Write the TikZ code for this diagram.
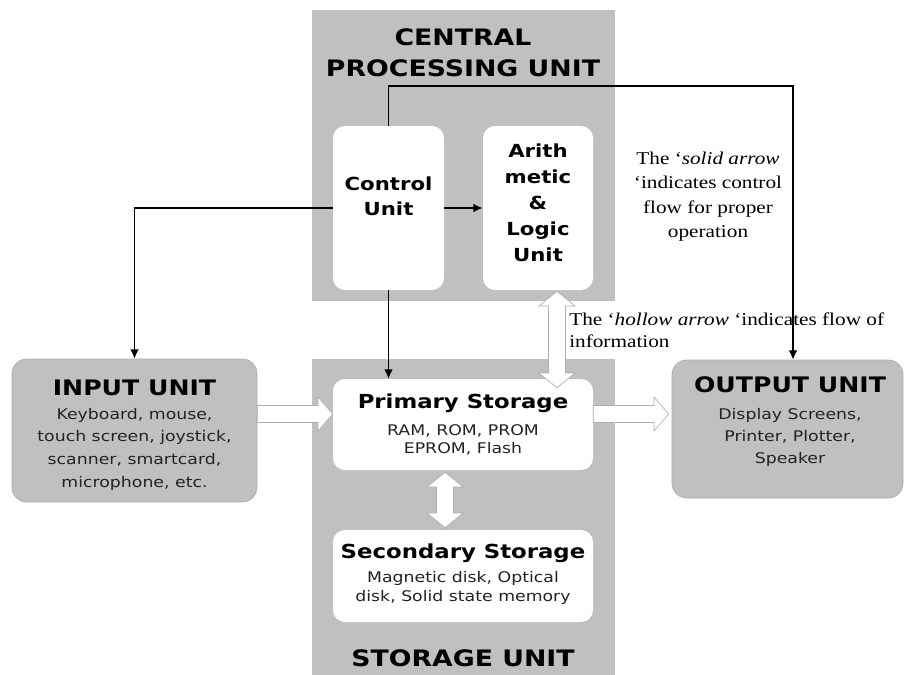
\documentclass[tikz,border=0pt]{standalone}
\usepackage{fontspec}
\setmainfont[FakeStretch=1.18]{Liberation Serif}
\newfontfamily\unitfont[FakeStretch=1.18]{DejaVu Sans}
\usetikzlibrary{arrows.meta,calc,fit}
\definecolor{panelgray}{RGB}{192,192,192}
\definecolor{hollowedge}{RGB}{175,175,175}
\definecolor{listtext}{RGB}{35,35,35}

\begin{document}
\begin{tikzpicture}[x=0.75pt,y=-0.75pt,
  panel/.style={fill=panelgray, draw=none, inner sep=0pt},
  unitbox/.style={fill=panelgray, draw=panelgray!90!black, line width=0.5pt, rounded corners=11pt, inner sep=0pt},
  whitebox/.style={fill=white, draw=none, rounded corners=9pt, inner sep=0pt},
  bigtitle/.style={font=\unitfont\bfseries\fontsize{17}{23}\selectfont, align=center, inner sep=0pt},
  unittitle/.style={font=\unitfont\bfseries\fontsize{16}{20}\selectfont, inner sep=0pt},
  storetitle/.style={font=\unitfont\bfseries\fontsize{14.5}{18}\selectfont, inner sep=0pt},
  celltitle/.style={font=\unitfont\bfseries\fontsize{13.5}{19}\selectfont, align=center, inner sep=0pt},
  listtext/.style={text=listtext, align=center, inner sep=0pt},
  note/.style={font=\fontsize{13.5}{18.4}\selectfont, inner sep=0pt},
  ctlflow/.style={draw=black, line width=1.15pt, -{Latex[length=7pt,width=6.5pt]}},
  hollowright/.style={draw=hollowedge, fill=white, line width=0.5pt,
    to path={let \p1=(\tikztostart), \p2=(\tikztotarget) in
      (\x1,\y1+6.4pt) -- (\x2-11pt,\y1+6.4pt) -- (\x2-11pt,\y1+12.75pt) -- (\x2,\y1)
      -- (\x2-11pt,\y1-12.75pt) -- (\x2-11pt,\y1-6.4pt) -- (\x1,\y1-6.4pt) -- cycle}},
  hollowboth/.style={draw=hollowedge, fill=white, line width=0.5pt,
    to path={let \p1=(\tikztostart), \p2=(\tikztotarget) in
      (\x1,\y1) -- (\x1+13.5pt,\y1-11pt) -- (\x1+6.4pt,\y1-11pt) -- (\x1+6.4pt,\y2+11pt)
      -- (\x1+13.5pt,\y2+11pt) -- (\x1,\y2) -- (\x1-13.5pt,\y2+11pt) -- (\x1-6.4pt,\y2+11pt)
      -- (\x1-6.4pt,\y1-11pt) -- (\x1-13.5pt,\y1-11pt) -- cycle}}
]
\useasboundingbox (0,0) rectangle (905,674);

% grey panels and unit boxes
\node[panel, fit={(312,10) (615,301)}] (cpu) {};
\node[panel, fit={(312,359) (615,680)}] (storage) {};
\node[unitbox, fit={(12,359) (257,502)}] (input) {};
\node[unitbox, fit={(672,360) (903,498)}] (output) {};

% white inner blocks
\node[whitebox, fit={(333,126) (444,290)}] (ctrl) {};
\node[whitebox, fit={(483,126) (593,290)}] (alu) {};
\node[whitebox, fit={(333,379) (593,470)}] (primary) {};
\node[whitebox, fit={(333,530) (593,622)}] (secondary) {};

% information flow (hollow arrows)
\coordinate (inA) at ($(input.east)+(0,-16.5)$);
\coordinate (inB) at (primary.west |- inA);
\coordinate (outA) at (primary.east |- inA);
\coordinate (outB) at ($(output.west |- inA)+(-3,0)$);
\coordinate (busTop) at ($(alu.south)+(19,1)$);
\coordinate (busBot) at ($(busTop |- primary.north)+(0,9)$);
\coordinate (memTop) at ($(primary.south)+(-18,2)$);
\coordinate (memBot) at ($(memTop |- secondary.north)+(0,-2)$);
\path[hollowright] (inA) to (inB);
\path[hollowright] (outA) to (outB);
\path[hollowboth] (busTop) to (busBot);
\path[hollowboth] (memTop) to (memBot);

% titles and contents
\node[bigtitle] (cputitle) at (463,52.5) {CENTRAL\\PROCESSING UNIT};
\node[bigtitle] (storagetitle) at (463,658) {STORAGE UNIT};
\node[celltitle] (ctrltext) at (388.5,196) {Control\\Unit};
\node[celltitle, font=\unitfont\bfseries\fontsize{13.5}{19.5}\selectfont] (alutext) at (538,203) {Arith\\metic\\\&\\Logic\\Unit};
\node[storetitle] (primarytitle) at (463,403) {Primary Storage};
\node[listtext, font=\unitfont\fontsize{11}{13.5}\selectfont] (primarylist) at (463,439.5) {RAM, ROM, PROM\\EPROM, Flash};
\node[storetitle] (secondarytitle) at (463,553) {Secondary Storage};
\node[listtext, font=\unitfont\fontsize{11}{14.25}\selectfont] (secondarylist) at (463,588) {Magnetic disk, Optical\\disk, Solid state memory};
\node[unittitle] (inputtitle) at (134.5,388) {INPUT UNIT};
\node[listtext, font=\unitfont\fontsize{11}{17}\selectfont] (inputlist) at (134.5,449) {Keyboard, mouse,\\touch screen, joystick,\\scanner, smartcard,\\microphone, etc.};
\node[unittitle] (outputtitle) at (790,385) {OUTPUT UNIT};
\node[listtext, font=\unitfont\fontsize{11}{16.3}\selectfont] (outputlist) at (790,437.5) {Display Screens,\\Printer, Plotter,\\Speaker};

% legend notes
\node[note, align=center] (solidnote) at (708,196.5) {The ‘\textit{solid arrow}\\‘indicates control\\flow for proper\\operation};
\node[note, align=left, anchor=west, font=\fontsize{13.5}{16.5}\selectfont] (hollownote) at (569,330) {The ‘\textit{hollow arrow} ‘indicates flow of\\information};

% control flow (solid arrows)
\coordinate (topbend) at ($(ctrl.north)+(0,-40)$);
\coordinate (outIn) at ($(output.north)+(5.5,0)$);
\draw[ctlflow] (ctrl.north) -- (topbend) -| (outIn);
\draw[ctlflow] (ctrl.west) -| (input.north);
\draw[ctlflow] (ctrl.east) -- (alu.west);
\draw[ctlflow] (ctrl.south) -- (ctrl.south |- primary.north);
\end{tikzpicture}
\end{document}
